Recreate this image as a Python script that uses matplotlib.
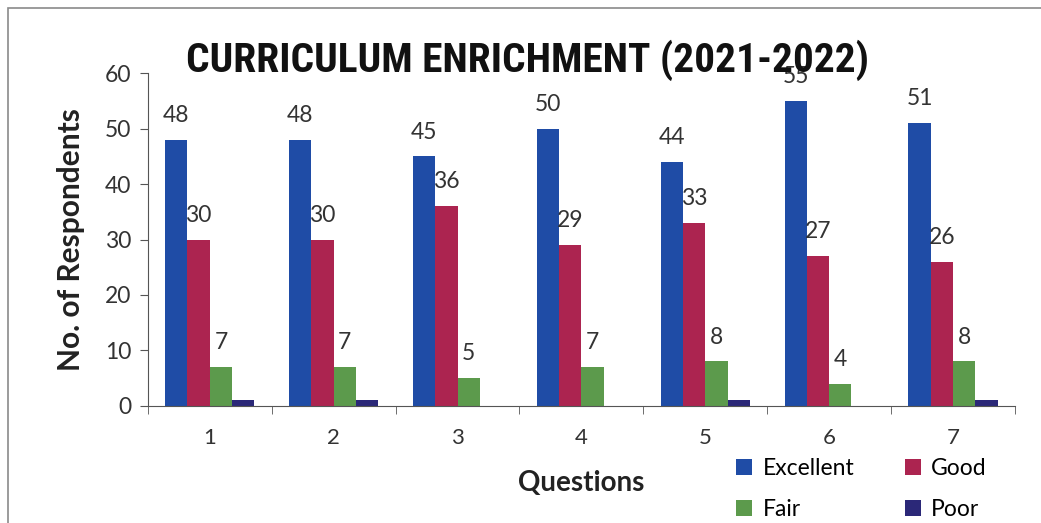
import numpy as np
import matplotlib.pyplot as plt
from matplotlib import font_manager
from matplotlib.patches import Rectangle

# Дані
questions = ["1", "2", "3", "4", "5", "6", "7"]
excellent = [48, 48, 45, 50, 44, 55, 51]
good = [30, 30, 36, 29, 33, 27, 26]
fair = [7, 7, 5, 7, 8, 4, 8]
poor = [1, 1, 0, 0, 1, 0, 1]

series = [("Excellent", excellent, "#1f4ca6"),
          ("Good", good, "#ac2450"),
          ("Fair", fair, "#5c9a4c"),
          ("Poor", poor, "#2b2878")]

# шрифт, схожий на Calibri, якщо є
names = {f.name for f in font_manager.fontManager.ttflist}
narrow = next((n for n in ["Liberation Sans Narrow", "DejaVu Sans Condensed",
                           "Roboto Condensed", "Open Sans Condensed", "Lato"]
               if n in names), "DejaVu Sans")
base = "Lato" if "Lato" in names else "DejaVu Sans"
plt.rcParams['font.family'] = [base, 'DejaVu Sans']

fig = plt.figure(figsize=(10.41, 5.23), dpi=100)
ax = fig.add_axes([0.142, 0.224, 0.833, 0.636])

# рамка діаграми
fig.patches.append(Rectangle((0.008, -0.1), 1.2, 1.085, transform=fig.transFigure,
                             fill=False, edgecolor="#8a8a8a", lw=1.2))

x = np.arange(len(questions))
w = 0.18
for i, (name, vals, col) in enumerate(series):
    pos = x + (i - 1.5) * w
    ax.bar(pos, vals, width=w, color=col, label=name)
    if name != "Poor":
        for p, v in zip(pos, vals):
            ax.text(p, v + 2.5, str(v), ha="center", va="bottom",
                    fontsize=16.5, color="#333333")

ax.set_xlim(-0.5, len(questions) - 0.5)
ax.set_ylim(0, 60)
ax.set_yticks(range(0, 61, 10))
ax.set_xticks(x)
ax.set_xticklabels(questions)
ax.set_xticks(np.arange(-0.5, len(questions)), minor=True)
ax.tick_params(axis="x", which="major", length=0, pad=16, labelsize=16,
               labelcolor="#333333")
ax.tick_params(axis="x", which="minor", length=6, color="#555555")
ax.tick_params(axis="y", length=6, color="#555555", labelsize=16.5,
               labelcolor="#333333", pad=6)

for s in ["top", "right"]:
    ax.spines[s].set_visible(False)
ax.spines["left"].set_color("#555555")
ax.spines["bottom"].set_color("#555555")

ax.set_ylabel("No. of Respondents", fontsize=21.5, fontweight="bold", labelpad=14,
              color="#222222")
ax.set_xlabel("Questions", fontsize=20, fontweight="bold", labelpad=16,
              color="#222222")

title = fig.text(0.507, 0.862, "CURRICULUM ENRICHMENT (2021-2022)", ha="center",
                 va="baseline", fontsize=30, fontweight="bold", family=narrow,
                 color="#111111")
# підганяємо ширину заголовка під ~683 px
fig.canvas.draw()
tw = title.get_window_extent().width
title.set_fontsize(30 * 683 / tw)

h, l = ax.get_legend_handles_labels()
order = [0, 2, 1, 3]
ax.legend([h[i] for i in order], [l[i] for i in order],
          loc="upper left", bbox_to_anchor=(0.655, -0.095), ncol=2, frameon=False,
          fontsize=16.5, handlelength=0.7, handleheight=0.7, columnspacing=2.2,
          handletextpad=0.45, labelspacing=0.85)

fig.savefig("out.png", dpi=100)
